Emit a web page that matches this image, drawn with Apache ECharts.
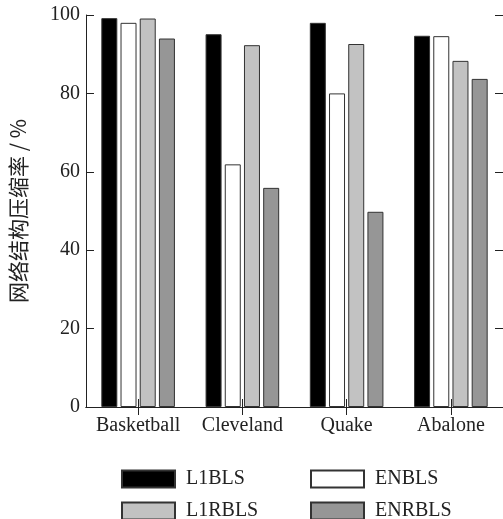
<!DOCTYPE html>
<html>
<head>
<meta charset="utf-8">
<script src="https://cdn.jsdelivr.net/npm/echarts@6/dist/echarts.min.js"></script>
<style>
  html, body { margin: 0; padding: 0; background: #fff; }
  #chart { width: 503px; height: 519px; }
</style>
</head>
<body>
<div id="chart"></div>
<script>
// 数据集
var categories = ["Basketball", "Cleveland", "Quake", "Abalone"];
var l1bls = [99.2, 95.1, 98.0, 94.7];
var enbls = [98.0, 61.9, 80.0, 94.6];
var l1rbls = [99.1, 92.3, 92.6, 88.3];
var enrbls = [94.0, 55.9, 49.8, 83.7];
var yTicks = [0, 20, 40, 60, 80, 100];

var font = "'Liberation Serif', 'Times New Roman', serif";
var myChart = echarts.init(document.getElementById("chart"));

function bar(name, data, color) {
  return {
    name: name,
    type: "bar",
    data: data,
    barWidth: 16,
    barGap: "20%",
    xAxisIndex: 0,
    itemStyle: {
      color: color,
      borderColor: "#333",
      borderWidth: 1,
    },
  };
}

// 图例：每项单独放置，2x2排列
function legendItem(name, left, top) {
  return {
    data: [name],
    left: left,
    top: top,
    icon: "rect",
    itemWidth: 53,
    itemHeight: 17,
    padding: 0,
    textStyle: { fontFamily: font, fontSize: 20, lineHeight: 17, color: "#222", padding: [0, 0, 0, 6] },
  };
}

var option = {
  animation: false,
  textStyle: { fontFamily: font },
  legend: [
    legendItem("L1BLS", 121, 469),
    legendItem("ENBLS", 310, 469),
    legendItem("L1RBLS", 121, 501),
    legendItem("ENRBLS", 310, 501),
  ],
  grid: {
    left: 85,
    top: 15,
    width: 421,
    height: 392,
    containLabel: false,
  },
  xAxis: [
    {
      type: "category",
      data: categories,
      position: "bottom",
      axisTick: { show: true, inside: true, length: 8, alignWithLabel: true, lineStyle: { color: "#222" } },
      axisLine: { lineStyle: { color: "#222", width: 1 } },
      axisLabel: { interval: 0, fontFamily: font, fontSize: 20, color: "#222", margin: 9 },
    },
    {
      type: "category",
      data: categories,
      position: "top",
      axisTick: { show: true, inside: true, length: 8, alignWithLabel: true, lineStyle: { color: "#222" } },
      axisLine: { lineStyle: { color: "#222", width: 1 } },
      axisLabel: { show: false },
    },
  ],
  yAxis: [
    {
      type: "value",
      min: 0,
      max: 100,
      interval: 20,
      name: "网络结构压缩率 / %",
      nameLocation: "middle",
      nameGap: 57,
      nameTextStyle: { fontFamily: "'Noto Sans CJK SC', " + font, fontSize: 21, color: "#222" },
      axisLine: { show: true, lineStyle: { color: "#222", width: 1 } },
      axisTick: { show: true, inside: true, length: 8, lineStyle: { color: "#222" } },
      splitLine: { show: false },
      axisLabel: {
        fontFamily: font,
        fontSize: 20,
        color: "#222",
        margin: 6,
        formatter: function (v) { return yTicks.indexOf(v) >= 0 ? v : ""; },
      },
    },
    {
      type: "value",
      min: 0,
      max: 100,
      interval: 20,
      position: "right",
      axisLine: { show: true, lineStyle: { color: "#222", width: 1 } },
      axisTick: { show: true, inside: true, length: 8, lineStyle: { color: "#222" } },
      splitLine: { show: false },
      axisLabel: { show: false },
    },
  ],
  series: [
    bar("L1BLS", l1bls, "#000000"),
    bar("ENBLS", enbls, "#ffffff"),
    bar("L1RBLS", l1rbls, "#c2c2c2"),
    bar("ENRBLS", enrbls, "#969696"),
  ],
};
myChart.setOption(option);
</script>
</body>
</html>
